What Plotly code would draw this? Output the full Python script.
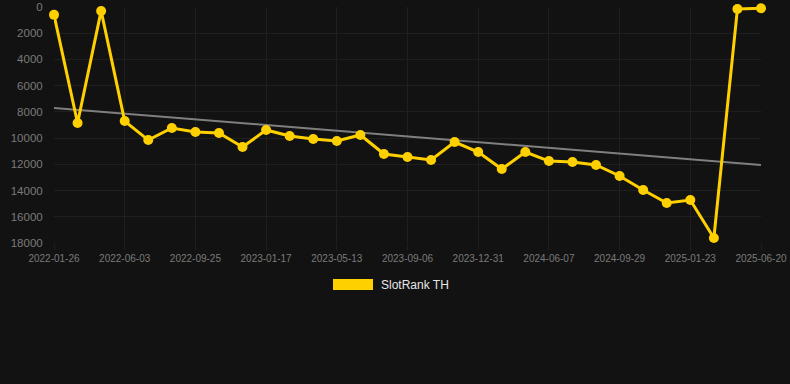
import numpy as np
import plotly.graph_objects as go

dates = [
    "2022-01-26", "2022-03-10", "2022-04-22",
    "2022-06-03", "2022-07-11", "2022-08-18",
    "2022-09-25", "2022-11-02", "2022-12-10",
    "2023-01-17", "2023-02-24", "2023-04-04",
    "2023-05-13", "2023-06-20", "2023-07-29",
    "2023-09-06", "2023-10-14", "2023-11-22",
    "2023-12-31", "2024-02-22", "2024-04-15",
    "2024-06-07", "2024-07-15", "2024-08-22",
    "2024-09-29", "2024-11-06", "2024-12-15",
    "2025-01-23", "2025-03-11", "2025-05-04",
    "2025-06-20",
]
ranks = [
    600, 8850, 300, 8700, 10150, 9230, 9530, 9610, 10680, 9380,
    9840, 10070, 10220, 9760, 11210, 11440, 11670, 10300, 11060, 12360,
    11060, 11750, 11820, 12050, 12890, 13960, 14950, 14720, 17620, 150,
    100,
]
tick_labels = dates[::3]
y_ticks = list(range(0, 18001, 2000))
y_tick_text = [str(v) for v in y_ticks]
series_name = "SlotRank TH"

idx = np.arange(len(ranks))
slope, intercept = np.polyfit(idx, ranks, 1)
trend = slope * idx + intercept

YELLOW = "#FFD000"
BG = "#121212"
GRID = "#1f1f1f"
TICK = "#7a7a7a"

fig = go.Figure()
fig.add_trace(go.Scatter(
    x=dates, y=trend, mode="lines",
    line=dict(color="#7f7f7f", width=2),
    showlegend=False, hoverinfo="skip",
))
fig.add_trace(go.Scatter(
    x=dates, y=ranks, mode="lines+markers", name=series_name,
    line=dict(color=YELLOW, width=3),
    marker=dict(color=YELLOW, size=10),
    cliponaxis=False, showlegend=False,
))

W, H = 790, 384
L, R, T, B = 54, 29, 7, 141
pw, ph = W - L - R, H - T - B

def px_x(p):
    return (p - L) / pw

def px_y(p):
    return (H - B - p) / ph

fig.add_shape(type="rect", xref="paper", yref="paper",
              x0=px_x(333), x1=px_x(373), y0=px_y(290), y1=px_y(279),
              fillcolor=YELLOW, line=dict(width=0))
fig.add_annotation(xref="paper", yref="paper", x=px_x(379), y=px_y(285),
                   text=series_name, showarrow=False, xanchor="left",
                   yanchor="middle", font=dict(size=12, color="#e6e6e6"))

fig.update_layout(
    width=W, height=H,
    margin=dict(l=L, r=R, t=T, b=B, pad=0, autoexpand=False),
    paper_bgcolor=BG, plot_bgcolor=BG,
    font=dict(family="Liberation Sans, Arial, sans-serif"),
    showlegend=False,
    xaxis=dict(
        type="category", range=[0, len(dates) - 1], automargin=False,
        tickmode="array", tickvals=tick_labels, ticktext=tick_labels,
        showgrid=True, gridcolor=GRID, gridwidth=1,
        zeroline=False, showline=False,
        ticks="outside", ticklen=6, tickcolor=GRID,
        tickfont=dict(size=10, color=TICK),
    ),
    yaxis=dict(
        range=[18000, 0], automargin=False,
        tickmode="array", tickvals=y_ticks, ticktext=y_tick_text,
        showgrid=True, gridcolor=GRID, gridwidth=1,
        zeroline=False, showline=False,
        ticks="outside", ticklen=8, tickcolor=BG,
        tickfont=dict(size=11.5, color=TICK),
    ),
)

fig.write_html("out.html")
